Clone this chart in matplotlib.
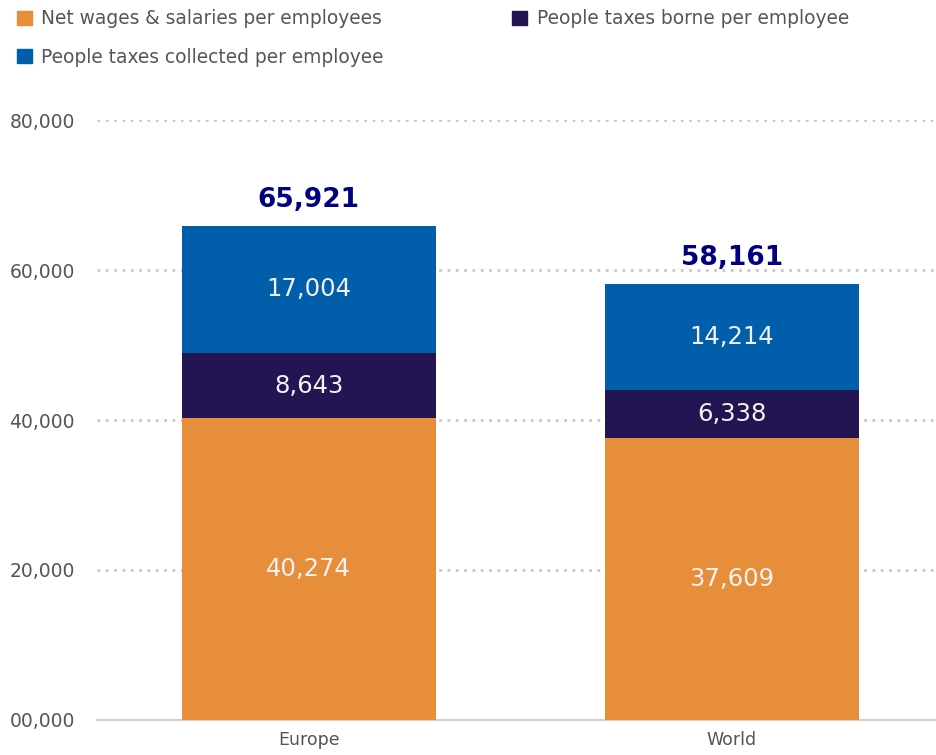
import numpy as np
import matplotlib.pyplot as plt
from matplotlib.patches import Patch

regions = ["Europe", "World"]
net_wages = [40274, 37609]
taxes_borne = [8643, 6338]
taxes_collected = [17004, 14214]
totals = [65921, 58161]
yticks = [0, 20000, 40000, 60000, 80000]
ytick_labels = ["00,000", "20,000", "40,000", "60,000", "80,000"]

series_names = ["Net wages & salaries per employees",
                "People taxes borne per employee",
                "People taxes collected per employee"]
colors = ["#E68E3A", "#221551", "#005EAA"]

fig = plt.figure(figsize=(9.37, 7.55), dpi=100)
ax = fig.add_axes([0.1035, 0.0464, 0.8945, 0.7946])

x = np.arange(len(regions))
w = 0.6
bottom = np.zeros(len(regions))
for vals, col in zip([net_wages, taxes_borne, taxes_collected], colors):
    ax.bar(x, vals, w, bottom=bottom, color=col, zorder=3)
    for xi, b, v in zip(x, bottom, vals):
        ax.text(xi, b + v / 2, f"{v:,}", ha="center", va="center",
                color="#f2f2f2", fontsize=17.5, zorder=4)
    bottom += np.array(vals)

for xi, t, b in zip(x, totals, bottom):
    ax.annotate(f"{t:,}", (xi, b), xytext=(0, 9), textcoords="offset points",
                ha="center", va="bottom", color="#000080", fontsize=19,
                fontweight="bold")

ax.set_xlim(-0.5, 1.48)
ax.set_ylim(0, 80000)
ax.set_yticks(yticks)
ax.set_yticklabels(ytick_labels, color="#555555", fontsize=13.5)
ax.set_xticks(x)
ax.set_xticklabels(regions, color="#555555", fontsize=12.5)
ax.tick_params(axis="both", length=0)
ax.tick_params(axis="y", pad=16)
ax.tick_params(axis="x", pad=8)

for y in yticks[1:]:
    ax.axhline(y, color="#c8c8c8", linestyle=(0, (1, 2)), linewidth=2, zorder=1)
for s in ["top", "right", "left"]:
    ax.spines[s].set_visible(False)
ax.spines["bottom"].set_color("#d0d0d0")
ax.spines["bottom"].set_linewidth(1.5)

handles = [Patch(color=c) for c in colors]
order = [0, 2, 1]
fig.legend([handles[i] for i in order], [series_names[i] for i in order],
           loc="upper left", bbox_to_anchor=(0.0085, 1.0), borderaxespad=0.1,
           ncol=2, frameon=False, fontsize=13.4, labelcolor="#555555",
           handlelength=0.8, handleheight=0.8, handletextpad=0.5,
           columnspacing=6.9, labelspacing=1.05)

fig.savefig("out.png", dpi=100)
